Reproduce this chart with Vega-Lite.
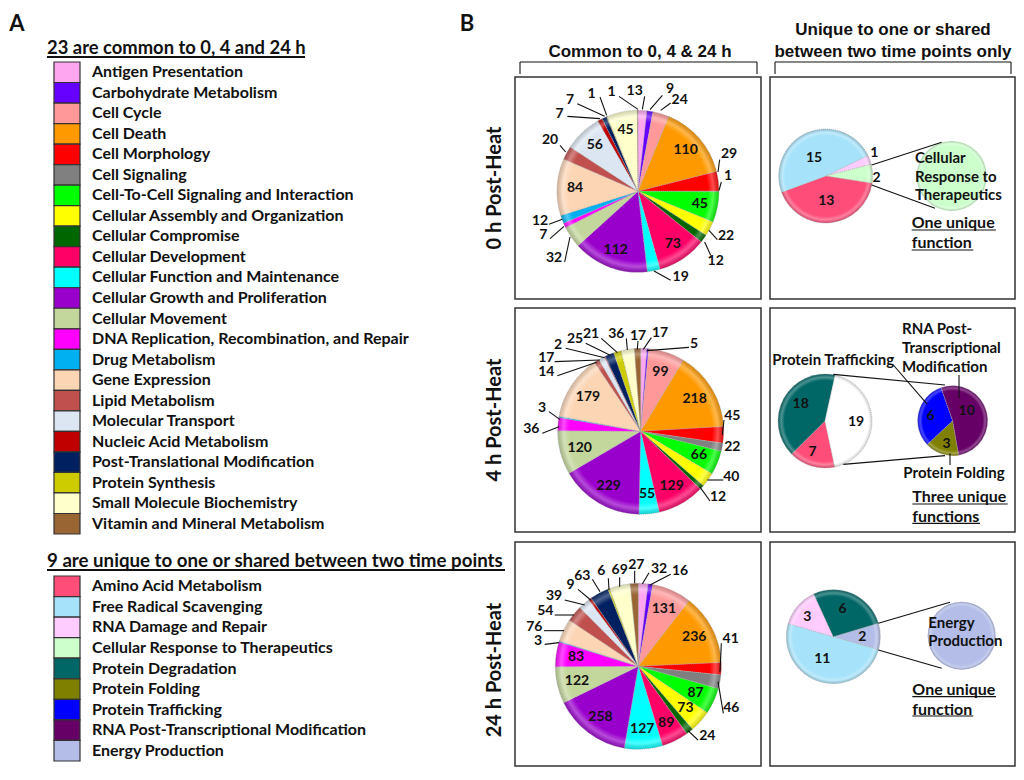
{"$schema":"https://vega.github.io/schema/vega-lite/v6.json","padding":{"left":9,"top":13,"right":9,"bottom":10},"bounds":"flush","align":"none","columns":3,"spacing":{"row":0,"column":9},
"config":{"view":{"stroke":null},"axis":{"disable":true},"legend":{"disable":true},"text":{"font":"Lato","fontWeight":"bold","fontSize":14,"color":"#111"},"rule":{"color":"#111","strokeWidth":1.1}},
"datasets":{"one":[{}],
"functionsA":[{"category":"Antigen Presentation"},{"category":"Carbohydrate Metabolism"},{"category":"Cell Cycle"},{"category":"Cell Death"},{"category":"Cell Morphology"},{"category":"Cell Signaling"},{"category":"Cell-To-Cell Signaling and Interaction"},{"category":"Cellular Assembly and Organization"},{"category":"Cellular Compromise"},{"category":"Cellular Development"},{"category":"Cellular Function and Maintenance"},{"category":"Cellular Growth and Proliferation"},{"category":"Cellular Movement"},{"category":"DNA Replication, Recombination, and Repair"},{"category":"Drug Metabolism"},{"category":"Gene Expression"},{"category":"Lipid Metabolism"},{"category":"Molecular Transport"},{"category":"Nucleic Acid Metabolism"},{"category":"Post-Translational Modification"},{"category":"Protein Synthesis"},{"category":"Small Molecule Biochemistry"},{"category":"Vitamin and Mineral Metabolism"}],
"functionsB":[{"category":"Amino Acid Metabolism"},{"category":"Free Radical Scavenging"},{"category":"RNA Damage and Repair"},{"category":"Cellular Response to Therapeutics"},{"category":"Protein Degradation"},{"category":"Protein Folding"},{"category":"Protein Trafficking"},{"category":"RNA Post-Transcriptional Modification"},{"category":"Energy Production"}],
"common":[
{"time":"0 h","category":"Antigen Presentation","value":13},{"time":"0 h","category":"Carbohydrate Metabolism","value":9},{"time":"0 h","category":"Cell Cycle","value":24},{"time":"0 h","category":"Cell Death","value":110},{"time":"0 h","category":"Cell Morphology","value":29},{"time":"0 h","category":"Cell Signaling","value":1},{"time":"0 h","category":"Cell-To-Cell Signaling and Interaction","value":45},{"time":"0 h","category":"Cellular Assembly and Organization","value":22},{"time":"0 h","category":"Cellular Compromise","value":12},{"time":"0 h","category":"Cellular Development","value":73},{"time":"0 h","category":"Cellular Function and Maintenance","value":19},{"time":"0 h","category":"Cellular Growth and Proliferation","value":112},{"time":"0 h","category":"Cellular Movement","value":32},{"time":"0 h","category":"DNA Replication, Recombination, and Repair","value":7},{"time":"0 h","category":"Drug Metabolism","value":12},{"time":"0 h","category":"Gene Expression","value":84},{"time":"0 h","category":"Lipid Metabolism","value":20},{"time":"0 h","category":"Molecular Transport","value":56},{"time":"0 h","category":"Nucleic Acid Metabolism","value":7},{"time":"0 h","category":"Post-Translational Modification","value":7},{"time":"0 h","category":"Protein Synthesis","value":1},{"time":"0 h","category":"Small Molecule Biochemistry","value":45},{"time":"0 h","category":"Vitamin and Mineral Metabolism","value":1},
{"time":"4 h","category":"Antigen Presentation","value":17},{"time":"4 h","category":"Carbohydrate Metabolism","value":5},{"time":"4 h","category":"Cell Cycle","value":99},{"time":"4 h","category":"Cell Death","value":218},{"time":"4 h","category":"Cell Morphology","value":45},{"time":"4 h","category":"Cell Signaling","value":22},{"time":"4 h","category":"Cell-To-Cell Signaling and Interaction","value":66},{"time":"4 h","category":"Cellular Assembly and Organization","value":40},{"time":"4 h","category":"Cellular Compromise","value":12},{"time":"4 h","category":"Cellular Development","value":129},{"time":"4 h","category":"Cellular Function and Maintenance","value":55},{"time":"4 h","category":"Cellular Growth and Proliferation","value":229},{"time":"4 h","category":"Cellular Movement","value":120},{"time":"4 h","category":"DNA Replication, Recombination, and Repair","value":36},{"time":"4 h","category":"Drug Metabolism","value":3},{"time":"4 h","category":"Gene Expression","value":179},{"time":"4 h","category":"Lipid Metabolism","value":14},{"time":"4 h","category":"Molecular Transport","value":17},{"time":"4 h","category":"Nucleic Acid Metabolism","value":2},{"time":"4 h","category":"Post-Translational Modification","value":25},{"time":"4 h","category":"Protein Synthesis","value":21},{"time":"4 h","category":"Small Molecule Biochemistry","value":36},{"time":"4 h","category":"Vitamin and Mineral Metabolism","value":17},
{"time":"24 h","category":"Antigen Presentation","value":32},{"time":"24 h","category":"Carbohydrate Metabolism","value":16},{"time":"24 h","category":"Cell Cycle","value":131},{"time":"24 h","category":"Cell Death","value":236},{"time":"24 h","category":"Cell Morphology","value":41},{"time":"24 h","category":"Cell Signaling","value":46},{"time":"24 h","category":"Cell-To-Cell Signaling and Interaction","value":87},{"time":"24 h","category":"Cellular Assembly and Organization","value":73},{"time":"24 h","category":"Cellular Compromise","value":24},{"time":"24 h","category":"Cellular Development","value":89},{"time":"24 h","category":"Cellular Function and Maintenance","value":127},{"time":"24 h","category":"Cellular Growth and Proliferation","value":258},{"time":"24 h","category":"Cellular Movement","value":122},{"time":"24 h","category":"DNA Replication, Recombination, and Repair","value":83},{"time":"24 h","category":"Drug Metabolism","value":3},{"time":"24 h","category":"Gene Expression","value":76},{"time":"24 h","category":"Lipid Metabolism","value":54},{"time":"24 h","category":"Molecular Transport","value":39},{"time":"24 h","category":"Nucleic Acid Metabolism","value":9},{"time":"24 h","category":"Post-Translational Modification","value":63},{"time":"24 h","category":"Protein Synthesis","value":6},{"time":"24 h","category":"Small Molecule Biochemistry","value":69},{"time":"24 h","category":"Vitamin and Mineral Metabolism","value":27}],
"unique":[
{"pie":"0 h","slice":1,"category":"RNA Damage and Repair","value":1},{"pie":"0 h","slice":2,"category":"Cellular Response to Therapeutics","value":2},{"pie":"0 h","slice":3,"category":"Amino Acid Metabolism","value":13},{"pie":"0 h","slice":4,"category":"Free Radical Scavenging","value":15},
{"pie":"0 h detail","slice":1,"category":"Cellular Response to Therapeutics","value":2},
{"pie":"4 h","slice":1,"category":"Amino Acid Metabolism","value":7},{"pie":"4 h","slice":2,"category":"Protein Degradation","value":18},{"pie":"4 h","slice":3,"category":"Three unique functions","value":19},
{"pie":"4 h detail","slice":1,"category":"Protein Folding","value":3},{"pie":"4 h detail","slice":2,"category":"Protein Trafficking","value":6},{"pie":"4 h detail","slice":3,"category":"RNA Post-Transcriptional Modification","value":10},
{"pie":"24 h","slice":1,"category":"Energy Production","value":2},{"pie":"24 h","slice":2,"category":"Free Radical Scavenging","value":11},{"pie":"24 h","slice":3,"category":"RNA Damage and Repair","value":3},{"pie":"24 h","slice":4,"category":"Protein Degradation","value":6},
{"pie":"24 h detail","slice":1,"category":"Energy Production","value":2}]},
"concat":[
  {"width":459,"height":20,"data":{"name":"one"},"layer":[
   {"mark":{"type":"rule","strokeWidth":2},"encoding":{"x":{"datum":0,"scale":{"domain":[0,459],"nice":false,"zero":false}},"x2":{"datum":258},"y":{"datum":0,"scale":{"domain":[0,20],"reverse":true,"nice":false,"zero":false}}}},
   {"mark":{"type":"text","text":"23 are common to 0, 4 and 24 h","align":"left","fontSize":18.4,"dy":-9},"encoding":{"x":{"datum":0},"y":{"datum":0}}},
   {"mark":{"type":"text","text":"A","align":"center","fontSize":22,"dx":-30,"dy":-33},"encoding":{"x":{"datum":0},"y":{"datum":0}}}]},
  {"width":246,"height":20,"data":{"name":"one"},"layer":[
    {"mark":"rule","encoding":{"x":{"datum":5,"scale":{"domain":[0,246],"nice":false,"zero":false}},"x2":{"datum":242},"y":{"datum":5,"scale":{"domain":[0,20],"reverse":true,"nice":false,"zero":false}}}},
    {"mark":"rule","encoding":{"x":{"datum":5},"y":{"datum":5},"y2":{"datum":17}}},
    {"mark":"rule","encoding":{"x":{"datum":242},"y":{"datum":5},"y2":{"datum":17}}},
    {"mark":{"type":"text","text":"Common to 0, 4 & 24 h","font":"Liberation Sans","fontSize":17,"dy":-5},"encoding":{"x":{"datum":125},"y":{"datum":0}}},
    {"mark":{"type":"text","text":"B","fontSize":22,"dx":-48,"dy":-33},"encoding":{"x":{"datum":0},"y":{"datum":0}}}]},
  {"width":245,"height":20,"data":{"name":"one"},"layer":[
    {"mark":"rule","encoding":{"x":{"datum":5,"scale":{"domain":[0,245],"nice":false,"zero":false}},"x2":{"datum":241},"y":{"datum":5,"scale":{"domain":[0,20],"reverse":true,"nice":false,"zero":false}}}},
    {"mark":"rule","encoding":{"x":{"datum":5},"y":{"datum":5},"y2":{"datum":17}}},
    {"mark":"rule","encoding":{"x":{"datum":241},"y":{"datum":5},"y2":{"datum":17}}},
    {"mark":{"type":"text","text":"Unique to one or shared","font":"Liberation Sans","fontSize":17,"dy":-27},"encoding":{"x":{"datum":123},"y":{"datum":0}}},
    {"mark":{"type":"text","text":"between two time points only","font":"Liberation Sans","fontSize":17,"dy":-5},"encoding":{"x":{"datum":123},"y":{"datum":0}}}]},

  {"width":459,"height":222,"data":{"name":"functionsA"},"layer":[
   {"mark":{"type":"rect","stroke":"#333","strokeWidth":1.2},"encoding":{
   "x":{"datum":7,"scale":{"domain":[0,459],"nice":false,"zero":false}},"x2":{"datum":33},
   "y":{"field":"category","type":"nominal","sort":null,"scale":{"range":[-15,457],"paddingInner":0,"paddingOuter":0}},
   "color":{"field":"category","type":"nominal","scale":{
    "domain":["Antigen Presentation","Carbohydrate Metabolism","Cell Cycle","Cell Death","Cell Morphology","Cell Signaling","Cell-To-Cell Signaling and Interaction","Cellular Assembly and Organization","Cellular Compromise","Cellular Development","Cellular Function and Maintenance","Cellular Growth and Proliferation","Cellular Movement","DNA Replication, Recombination, and Repair","Drug Metabolism","Gene Expression","Lipid Metabolism","Molecular Transport","Nucleic Acid Metabolism","Post-Translational Modification","Protein Synthesis","Small Molecule Biochemistry","Vitamin and Mineral Metabolism","Amino Acid Metabolism","Free Radical Scavenging","RNA Damage and Repair","Cellular Response to Therapeutics","Protein Degradation","Protein Folding","Protein Trafficking","RNA Post-Transcriptional Modification","Energy Production","Three unique functions"],
    "range":["#FFA6F0","#6600FF","#FF9999","#FF9900","#FF0000","#808080","#00FF00","#FFFF00","#006600","#FF0066","#00FFFF","#9900CC","#C3D69B","#FF00FF","#00B0F0","#FCD5B5","#C0504D","#DCE6F2","#C00000","#002060","#CCCC00","#FFFFCC","#996633","#FF4D79","#A6E3FA","#FFCCFF","#CCFFCC","#006666","#808000","#0000FF","#660066","#B3BDE8","#FFFFFF"]}}}},
   {"mark":{"type":"text","align":"left","fontSize":16},"encoding":{"x":{"datum":45},"y":{"field":"category","type":"nominal","sort":null},"text":{"field":"category"}}}]},
  {"width":246,"height":222,"view":{"stroke":"#333","strokeWidth":1.5},"data":{"name":"one"},"layer":[
    {"data":{"name":"common"},"transform":[{"filter":"datum.time==='0 h'"}],"mark":{"type":"arc","outerRadius":81,"stroke":"#aaa","strokeWidth":0.7,"strokeDash":[1,1]},"encoding":{"x":{"datum":372,"scale":{"domain":[3,741],"nice":false,"zero":false}},"y":{"datum":343,"scale":{"domain":[0,666],"reverse":true,"nice":false,"zero":false}},"theta":{"field":"value","type":"quantitative","stack":true},"order":{"field":"category"},"color":{"field":"category","type":"nominal"}}},
    {"mark":{"type":"arc","outerRadius":81,"theta":0,"theta2":6.2832,"fill":{"gradient":"radial","stops":[{"offset":0,"color":"rgba(255,255,255,0)"},{"offset":0.86,"color":"rgba(255,255,255,0)"},{"offset":0.93,"color":"rgba(255,255,255,0.3)"},{"offset":1,"color":"rgba(60,60,60,0.22)"}]}},"encoding":{"x":{"datum":372},"y":{"datum":343}}},
    {"data":{"name":"common"},"transform":[{"filter":"datum.time==='0 h'"}],"mark":{"type":"text","radius":63},"encoding":{"x":{"datum":372},"y":{"datum":343},"theta":{"field":"value","type":"quantitative","stack":true},"order":{"field":"category"},"text":{"condition":{"test":"datum.value>=45","field":"value"},"value":""}}},
    {"mark":{"type":"text","text":"0 h  Post-Heat","angle":270,"fontSize":20,"dy":-20},"encoding":{"x":{"datum":3},"y":{"datum":333}}},
    {"mark":{"type":"text","text":"13"},"encoding":{"x":{"datum":362},"y":{"datum":43}}},{"mark":"rule","encoding":{"x":{"datum":392},"y":{"datum":58},"x2":{"datum":385},"y2":{"datum":97}}},
    {"mark":{"type":"text","text":"9"},"encoding":{"x":{"datum":468},"y":{"datum":35}}},{"mark":"rule","encoding":{"x":{"datum":445},"y":{"datum":55},"x2":{"datum":408},"y2":{"datum":98}}},
    {"mark":{"type":"text","text":"24"},"encoding":{"x":{"datum":497},"y":{"datum":70}}},{"mark":"rule","encoding":{"x":{"datum":470},"y":{"datum":78},"x2":{"datum":440},"y2":{"datum":100}}},
    {"mark":{"type":"text","text":"29"},"encoding":{"x":{"datum":645},"y":{"datum":230}}},{"mark":"rule","encoding":{"x":{"datum":617},"y":{"datum":248},"x2":{"datum":612},"y2":{"datum":285}}},
    {"mark":{"type":"text","text":"1"},"encoding":{"x":{"datum":642},"y":{"datum":298}}},{"mark":"rule","encoding":{"x":{"datum":622},"y":{"datum":315},"x2":{"datum":615},"y2":{"datum":340}}},
    {"mark":{"type":"text","text":"22"},"encoding":{"x":{"datum":636},"y":{"datum":477}}},{"mark":"rule","encoding":{"x":{"datum":610},"y":{"datum":488},"x2":{"datum":585},"y2":{"datum":460}}},
    {"mark":{"type":"text","text":"12"},"encoding":{"x":{"datum":605},"y":{"datum":551}}},{"mark":"rule","encoding":{"x":{"datum":590},"y":{"datum":535},"x2":{"datum":572},"y2":{"datum":495}}},
    {"mark":{"type":"text","text":"19"},"encoding":{"x":{"datum":500},"y":{"datum":600}}},{"mark":"rule","encoding":{"x":{"datum":470},"y":{"datum":610},"x2":{"datum":420},"y2":{"datum":582}}},
    {"mark":{"type":"text","text":"32"},"encoding":{"x":{"datum":120},"y":{"datum":543}}},{"mark":"rule","encoding":{"x":{"datum":152},"y":{"datum":555},"x2":{"datum":168},"y2":{"datum":480}}},
    {"mark":{"type":"text","text":"7"},"encoding":{"x":{"datum":88},"y":{"datum":474}}},{"mark":"rule","encoding":{"x":{"datum":108},"y":{"datum":485},"x2":{"datum":150},"y2":{"datum":448}}},
    {"mark":{"type":"text","text":"12"},"encoding":{"x":{"datum":78},"y":{"datum":432}}},{"mark":"rule","encoding":{"x":{"datum":105},"y":{"datum":442},"x2":{"datum":145},"y2":{"datum":427}}},
    {"mark":{"type":"text","text":"20"},"encoding":{"x":{"datum":108},"y":{"datum":190}}},{"mark":"rule","encoding":{"x":{"datum":138},"y":{"datum":205},"x2":{"datum":155},"y2":{"datum":225}}},
    {"mark":{"type":"text","text":"7"},"encoding":{"x":{"datum":137},"y":{"datum":110}}},{"mark":"rule","encoding":{"x":{"datum":160},"y":{"datum":118},"x2":{"datum":258},"y2":{"datum":125}}},
    {"mark":{"type":"text","text":"7"},"encoding":{"x":{"datum":168},"y":{"datum":68}}},{"mark":"rule","encoding":{"x":{"datum":190},"y":{"datum":80},"x2":{"datum":272},"y2":{"datum":118}}},
    {"mark":{"type":"text","text":"1"},"encoding":{"x":{"datum":233},"y":{"datum":50}}},{"mark":"rule","encoding":{"x":{"datum":258},"y":{"datum":60},"x2":{"datum":278},"y2":{"datum":115}}},
    {"mark":{"type":"text","text":"1"},"encoding":{"x":{"datum":293},"y":{"datum":45}}},{"mark":"rule","encoding":{"x":{"datum":315},"y":{"datum":58},"x2":{"datum":372},"y2":{"datum":97}}}]},
  {"width":245,"height":222,"view":{"stroke":"#333","strokeWidth":1.5},"data":{"name":"one"},"layer":[
    {"data":{"name":"unique"},"transform":[{"filter":"datum.pie==='0 h'"}],"mark":{"type":"arc","outerRadius":47,"stroke":"#aaa","strokeWidth":0.7,"strokeDash":[1,1]},"encoding":{"x":{"datum":182,"scale":{"domain":[15,750],"nice":false,"zero":false}},"y":{"datum":303,"scale":{"domain":[6,672],"reverse":true,"nice":false,"zero":false}},"theta":{"field":"value","type":"quantitative","stack":true,"scale":{"range":[1.117,7.4]}},"order":{"field":"slice"},"color":{"field":"category","type":"nominal"}}},
    {"mark":{"type":"arc","outerRadius":47,"theta":0,"theta2":6.2832,"fill":{"gradient":"radial","stops":[{"offset":0,"color":"rgba(255,255,255,0)"},{"offset":0.86,"color":"rgba(255,255,255,0)"},{"offset":0.93,"color":"rgba(255,255,255,0.3)"},{"offset":1,"color":"rgba(60,60,60,0.22)"}]}},"encoding":{"x":{"datum":182},"y":{"datum":303}}},
    {"data":{"name":"unique"},"transform":[{"filter":"datum.pie==='0 h detail'"}],"mark":{"type":"arc","outerRadius":35,"theta":0,"theta2":6.2832},"encoding":{"x":{"datum":560},"y":{"datum":303},"color":{"field":"category","type":"nominal"}}},
    {"mark":{"type":"arc","outerRadius":35,"theta":0,"theta2":6.2832,"fill":{"gradient":"radial","stops":[{"offset":0,"color":"rgba(255,255,255,0)"},{"offset":0.86,"color":"rgba(255,255,255,0)"},{"offset":0.93,"color":"rgba(255,255,255,0.3)"},{"offset":1,"color":"rgba(60,60,60,0.22)"}]}},"encoding":{"x":{"datum":560},"y":{"datum":303}}},
    {"mark":"rule","encoding":{"x":{"datum":320},"y":{"datum":270},"x2":{"datum":530},"y2":{"datum":202}}},
    {"mark":"rule","encoding":{"x":{"datum":320},"y":{"datum":330},"x2":{"datum":510},"y2":{"datum":400}}},
    {"mark":{"type":"text","text":"15"},"encoding":{"x":{"datum":147},"y":{"datum":250}}},
    {"mark":{"type":"text","text":"13"},"encoding":{"x":{"datum":184},"y":{"datum":377}}},
    {"mark":{"type":"text","text":"1"},"encoding":{"x":{"datum":328},"y":{"datum":235}}},
    {"mark":{"type":"text","text":"2"},"encoding":{"x":{"datum":335},"y":{"datum":308}}},
    {"mark":{"type":"text","text":["Cellular","Response to","Therapeutics"],"align":"left","baseline":"top","lineHeight":18.5,"fontSize":15},"encoding":{"x":{"datum":450},"y":{"datum":228}}},
    {"mark":{"type":"text","text":"One unique","align":"left","fontSize":16},"encoding":{"x":{"datum":440},"y":{"datum":445}}},
    {"mark":{"type":"text","text":"function","align":"left","fontSize":16},"encoding":{"x":{"datum":440},"y":{"datum":505}}},
    {"mark":"rule","encoding":{"x":{"datum":440},"y":{"datum":465},"x2":{"datum":693}}},
    {"mark":"rule","encoding":{"x":{"datum":440},"y":{"datum":525},"x2":{"datum":625}}}]},

  {"width":459,"height":9,"data":{"name":"one"},"mark":{"type":"rule","opacity":0},"encoding":{}},
  {"width":246,"height":9,"data":{"name":"one"},"mark":{"type":"rule","opacity":0},"encoding":{}},
  {"width":245,"height":9,"data":{"name":"one"},"mark":{"type":"rule","opacity":0},"encoding":{}},

  {"width":459,"height":224,"data":{"name":"one"},"mark":{"type":"rule","opacity":0},"encoding":{}},
  {"width":246,"height":224,"view":{"stroke":"#333","strokeWidth":1.5},"data":{"name":"one"},"layer":[
    {"data":{"name":"common"},"transform":[{"filter":"datum.time==='4 h'"}],"mark":{"type":"arc","outerRadius":83,"stroke":"#aaa","strokeWidth":0.7,"strokeDash":[1,1]},"encoding":{"x":{"datum":380,"scale":{"domain":[3,741],"nice":false,"zero":false}},"y":{"datum":379,"scale":{"domain":[9,681],"reverse":true,"nice":false,"zero":false}},"theta":{"field":"value","type":"quantitative","stack":true},"order":{"field":"category"},"color":{"field":"category","type":"nominal"}}},
    {"mark":{"type":"arc","outerRadius":83,"theta":0,"theta2":6.2832,"fill":{"gradient":"radial","stops":[{"offset":0,"color":"rgba(255,255,255,0)"},{"offset":0.86,"color":"rgba(255,255,255,0)"},{"offset":0.93,"color":"rgba(255,255,255,0.3)"},{"offset":1,"color":"rgba(60,60,60,0.22)"}]}},"encoding":{"x":{"datum":380},"y":{"datum":379}}},
    {"data":{"name":"common"},"transform":[{"filter":"datum.time==='4 h'"}],"mark":{"type":"text","radius":63},"encoding":{"x":{"datum":380},"y":{"datum":379},"theta":{"field":"value","type":"quantitative","stack":true},"order":{"field":"category"},"text":{"condition":{"test":"datum.value>=55","field":"value"},"value":""}}},
    {"mark":{"type":"text","text":"4 h Post-Heat","angle":270,"fontSize":20,"dy":-20},"encoding":{"x":{"datum":3},"y":{"datum":345}}},
    {"mark":{"type":"text","text":"17"},"encoding":{"x":{"datum":372},"y":{"datum":92}}},{"mark":"rule","encoding":{"x":{"datum":372},"y":{"datum":108},"x2":{"datum":370},"y2":{"datum":133}}},
    {"mark":{"type":"text","text":"17"},"encoding":{"x":{"datum":438},"y":{"datum":85}}},{"mark":"rule","encoding":{"x":{"datum":412},"y":{"datum":98},"x2":{"datum":388},"y2":{"datum":133}}},
    {"mark":{"type":"text","text":"5"},"encoding":{"x":{"datum":540},"y":{"datum":117}}},{"mark":"rule","encoding":{"x":{"datum":525},"y":{"datum":127},"x2":{"datum":398},"y2":{"datum":137}}},
    {"mark":{"type":"text","text":"45"},"encoding":{"x":{"datum":655},"y":{"datum":332}}},{"mark":"rule","encoding":{"x":{"datum":630},"y":{"datum":345},"x2":{"datum":625},"y2":{"datum":390}}},
    {"mark":{"type":"text","text":"22"},"encoding":{"x":{"datum":655},"y":{"datum":425}}},
    {"mark":{"type":"text","text":"40"},"encoding":{"x":{"datum":652},"y":{"datum":515}}},{"mark":"rule","encoding":{"x":{"datum":628},"y":{"datum":525},"x2":{"datum":580},"y2":{"datum":525}}},
    {"mark":{"type":"text","text":"12"},"encoding":{"x":{"datum":612},"y":{"datum":576}}},{"mark":"rule","encoding":{"x":{"datum":588},"y":{"datum":588},"x2":{"datum":557},"y2":{"datum":545}}},
    {"mark":{"type":"text","text":"36"},"encoding":{"x":{"datum":52},"y":{"datum":373}}},{"mark":"rule","encoding":{"x":{"datum":85},"y":{"datum":385},"x2":{"datum":135},"y2":{"datum":365}}},
    {"mark":{"type":"text","text":"3"},"encoding":{"x":{"datum":84},"y":{"datum":310}}},{"mark":"rule","encoding":{"x":{"datum":105},"y":{"datum":320},"x2":{"datum":137},"y2":{"datum":343}}},
    {"mark":{"type":"text","text":"14"},"encoding":{"x":{"datum":97},"y":{"datum":200}}},{"mark":"rule","encoding":{"x":{"datum":130},"y":{"datum":212},"x2":{"datum":248},"y2":{"datum":172}}},
    {"mark":{"type":"text","text":"17"},"encoding":{"x":{"datum":97},"y":{"datum":160}}},{"mark":"rule","encoding":{"x":{"datum":122},"y":{"datum":170},"x2":{"datum":258},"y2":{"datum":165}}},
    {"mark":{"type":"text","text":"2"},"encoding":{"x":{"datum":132},"y":{"datum":120}}},{"mark":"rule","encoding":{"x":{"datum":155},"y":{"datum":130},"x2":{"datum":272},"y2":{"datum":158}}},
    {"mark":{"type":"text","text":"25"},"encoding":{"x":{"datum":183},"y":{"datum":103}}},{"mark":"rule","encoding":{"x":{"datum":215},"y":{"datum":115},"x2":{"datum":287},"y2":{"datum":150}}},
    {"mark":{"type":"text","text":"21"},"encoding":{"x":{"datum":231},"y":{"datum":88}}},{"mark":"rule","encoding":{"x":{"datum":262},"y":{"datum":100},"x2":{"datum":310},"y2":{"datum":143}}},
    {"mark":{"type":"text","text":"36"},"encoding":{"x":{"datum":307},"y":{"datum":88}}},{"mark":"rule","encoding":{"x":{"datum":337},"y":{"datum":100},"x2":{"datum":340},"y2":{"datum":135}}}]},
  {"width":245,"height":224,"view":{"stroke":"#333","strokeWidth":1.5},"data":{"name":"one"},"resolve":{"scale":{"theta":"independent"}},"layer":[
    {"data":{"name":"unique"},"transform":[{"filter":"datum.pie==='4 h'"}],"mark":{"type":"arc","outerRadius":47,"stroke":"#aaa","strokeWidth":0.7,"strokeDash":[1,1]},"encoding":{"x":{"datum":180,"scale":{"domain":[15,750],"nice":false,"zero":false}},"y":{"datum":348,"scale":{"domain":[9,681],"reverse":true,"nice":false,"zero":false}},"theta":{"field":"value","type":"quantitative","stack":true,"scale":{"range":[2.932,9.215]}},"order":{"field":"slice"},"color":{"field":"category","type":"nominal"}}},
    {"mark":{"type":"arc","outerRadius":47,"theta":0,"theta2":6.2832,"fill":{"gradient":"radial","stops":[{"offset":0,"color":"rgba(255,255,255,0)"},{"offset":0.86,"color":"rgba(255,255,255,0)"},{"offset":0.93,"color":"rgba(255,255,255,0.3)"},{"offset":1,"color":"rgba(60,60,60,0.22)"}]}},"encoding":{"x":{"datum":180},"y":{"datum":348}}},
    {"data":{"name":"unique"},"transform":[{"filter":"datum.pie==='4 h detail'"}],"mark":{"type":"arc","outerRadius":35,"stroke":"#aaa","strokeWidth":0.7,"strokeDash":[1,1]},"encoding":{"x":{"datum":563},"y":{"datum":347},"theta":{"field":"value","type":"quantitative","stack":true,"scale":{"range":[2.967,9.25]}},"order":{"field":"slice"},"color":{"field":"category","type":"nominal"}}},
    {"mark":{"type":"arc","outerRadius":35,"theta":0,"theta2":6.2832,"fill":{"gradient":"radial","stops":[{"offset":0,"color":"rgba(255,255,255,0)"},{"offset":0.86,"color":"rgba(255,255,255,0)"},{"offset":0.93,"color":"rgba(255,255,255,0.3)"},{"offset":1,"color":"rgba(60,60,60,0.22)"}]}},"encoding":{"x":{"datum":563},"y":{"datum":347}}},
    {"mark":"rule","encoding":{"x":{"datum":205},"y":{"datum":208},"x2":{"datum":540},"y2":{"datum":240}}},
    {"mark":"rule","encoding":{"x":{"datum":235},"y":{"datum":478},"x2":{"datum":540},"y2":{"datum":452}}},
    {"mark":"rule","encoding":{"x":{"datum":385},"y":{"datum":180},"x2":{"datum":487},"y2":{"datum":298}}},
    {"mark":"rule","encoding":{"x":{"datum":582},"y":{"datum":210},"x2":{"datum":582},"y2":{"datum":280}}},
    {"mark":"rule","encoding":{"x":{"datum":555},"y":{"datum":445},"x2":{"datum":555},"y2":{"datum":480}}},
    {"mark":{"type":"text","text":"18"},"encoding":{"x":{"datum":107},"y":{"datum":297}}},
    {"mark":{"type":"text","text":"7"},"encoding":{"x":{"datum":143},"y":{"datum":440}}},
    {"mark":{"type":"text","text":"19"},"encoding":{"x":{"datum":273},"y":{"datum":350}}},
    {"mark":{"type":"text","text":"6"},"encoding":{"x":{"datum":497},"y":{"datum":333}}},
    {"mark":{"type":"text","text":"10"},"encoding":{"x":{"datum":605},"y":{"datum":318}}},
    {"mark":{"type":"text","text":"3"},"encoding":{"x":{"datum":545},"y":{"datum":418}}},
    {"mark":{"type":"text","text":"Protein Trafficking","align":"left","fontSize":15},"encoding":{"x":{"datum":22},"y":{"datum":165}}},
    {"mark":{"type":"text","text":["RNA Post-","Transcriptional","Modification"],"align":"left","baseline":"top","lineHeight":19,"fontSize":15},"encoding":{"x":{"datum":411},"y":{"datum":52}}},
    {"mark":{"type":"text","text":"Protein Folding","align":"left","fontSize":15},"encoding":{"x":{"datum":415},"y":{"datum":503}}},
    {"mark":{"type":"text","text":"Three unique","align":"left","fontSize":16},"encoding":{"x":{"datum":442},"y":{"datum":577}}},
    {"mark":{"type":"text","text":"functions","align":"left","fontSize":16},"encoding":{"x":{"datum":442},"y":{"datum":637}}},
    {"mark":"rule","encoding":{"x":{"datum":442},"y":{"datum":597},"x2":{"datum":728}}},
    {"mark":"rule","encoding":{"x":{"datum":442},"y":{"datum":655},"x2":{"datum":645}}}]},

  {"width":459,"height":10,"data":{"name":"one"},"mark":{"type":"rule","opacity":0},"encoding":{}},
  {"width":246,"height":10,"data":{"name":"one"},"mark":{"type":"rule","opacity":0},"encoding":{}},
  {"width":245,"height":10,"data":{"name":"one"},"mark":{"type":"rule","opacity":0},"encoding":{}},

  {"width":459,"height":224,"data":{"name":"functionsB"},"resolve":{"scale":{"y":"independent"}},"layer":[
   {"mark":{"type":"rect","stroke":"#333","strokeWidth":1.2},"encoding":{
   "x":{"datum":7,"scale":{"domain":[0,459],"nice":false,"zero":false}},"x2":{"datum":33},
   "y":{"field":"category","type":"nominal","sort":null,"scale":{"range":[34,219],"paddingInner":0,"paddingOuter":0}},
   "color":{"field":"category","type":"nominal"}}},
   {"mark":{"type":"text","align":"left","fontSize":16},"encoding":{"x":{"datum":45},"y":{"field":"category","type":"nominal","sort":null,"scale":{"range":[34,219],"paddingInner":0,"paddingOuter":0}},"text":{"field":"category"}}},
   {"data":{"name":"one"},"mark":{"type":"rule","strokeWidth":2},"encoding":{"x":{"datum":0},"x2":{"datum":458},"y":{"datum":28,"scale":{"domain":[0,224],"reverse":true,"nice":false,"zero":false}}}},
   {"data":{"name":"one"},"mark":{"type":"text","text":"9 are unique to one or shared between two time points","align":"left","fontSize":18.7,"dy":-9},"encoding":{"x":{"datum":0},"y":{"datum":28,"scale":{"domain":[0,224],"reverse":true,"nice":false,"zero":false}}}}]},
  {"width":246,"height":224,"view":{"stroke":"#333","strokeWidth":1.5},"data":{"name":"one"},"layer":[
    {"data":{"name":"common"},"transform":[{"filter":"datum.time==='24 h'"}],"mark":{"type":"arc","outerRadius":83,"stroke":"#aaa","strokeWidth":0.7,"strokeDash":[1,1]},"encoding":{"x":{"datum":373,"scale":{"domain":[3,741],"nice":false,"zero":false}},"y":{"datum":379,"scale":{"domain":[6,678],"reverse":true,"nice":false,"zero":false}},"theta":{"field":"value","type":"quantitative","stack":true},"order":{"field":"category"},"color":{"field":"category","type":"nominal"}}},
    {"mark":{"type":"arc","outerRadius":83,"theta":0,"theta2":6.2832,"fill":{"gradient":"radial","stops":[{"offset":0,"color":"rgba(255,255,255,0)"},{"offset":0.86,"color":"rgba(255,255,255,0)"},{"offset":0.93,"color":"rgba(255,255,255,0.3)"},{"offset":1,"color":"rgba(60,60,60,0.22)"}]}},"encoding":{"x":{"datum":373},"y":{"datum":379}}},
    {"data":{"name":"common"},"transform":[{"filter":"datum.time==='24 h'"}],"mark":{"type":"text","radius":63},"encoding":{"x":{"datum":373},"y":{"datum":379},"theta":{"field":"value","type":"quantitative","stack":true},"order":{"field":"category"},"text":{"condition":{"test":"datum.value>=73&&datum.value!==76","field":"value"},"value":""}}},
    {"mark":{"type":"text","text":"24 h Post-Heat","angle":270,"fontSize":20,"dy":-20},"encoding":{"x":{"datum":3},"y":{"datum":390}}},
    {"mark":{"type":"text","text":"32"},"encoding":{"x":{"datum":435},"y":{"datum":87}}},{"mark":"rule","encoding":{"x":{"datum":405},"y":{"datum":98},"x2":{"datum":385},"y2":{"datum":132}}},
    {"mark":{"type":"text","text":"16"},"encoding":{"x":{"datum":498},"y":{"datum":92}}},{"mark":"rule","encoding":{"x":{"datum":470},"y":{"datum":103},"x2":{"datum":408},"y2":{"datum":135}}},
    {"mark":{"type":"text","text":"41"},"encoding":{"x":{"datum":650},"y":{"datum":297}}},{"mark":"rule","encoding":{"x":{"datum":622},"y":{"datum":310},"x2":{"datum":618},"y2":{"datum":395}}},
    {"mark":{"type":"text","text":"46"},"encoding":{"x":{"datum":652},"y":{"datum":505}}},{"mark":"rule","encoding":{"x":{"datum":628},"y":{"datum":520},"x2":{"datum":612},"y2":{"datum":425}}},
    {"mark":{"type":"text","text":"24"},"encoding":{"x":{"datum":580},"y":{"datum":587}}},{"mark":"rule","encoding":{"x":{"datum":552},"y":{"datum":600},"x2":{"datum":522},"y2":{"datum":572}}},
    {"mark":{"type":"text","text":"3"},"encoding":{"x":{"datum":72},"y":{"datum":302}}},{"mark":"rule","encoding":{"x":{"datum":92},"y":{"datum":313},"x2":{"datum":135},"y2":{"datum":308}}},
    {"mark":{"type":"text","text":"76"},"encoding":{"x":{"datum":61},"y":{"datum":260}}},{"mark":"rule","encoding":{"x":{"datum":90},"y":{"datum":272},"x2":{"datum":150},"y2":{"datum":272}}},
    {"mark":{"type":"text","text":"54"},"encoding":{"x":{"datum":94},"y":{"datum":213}}},{"mark":"rule","encoding":{"x":{"datum":122},"y":{"datum":225},"x2":{"datum":180},"y2":{"datum":225}}},
    {"mark":{"type":"text","text":"39"},"encoding":{"x":{"datum":120},"y":{"datum":167}}},{"mark":"rule","encoding":{"x":{"datum":152},"y":{"datum":180},"x2":{"datum":212},"y2":{"datum":195}}},
    {"mark":{"type":"text","text":"9"},"encoding":{"x":{"datum":170},"y":{"datum":135}}},{"mark":"rule","encoding":{"x":{"datum":192},"y":{"datum":148},"x2":{"datum":230},"y2":{"datum":180}}},
    {"mark":{"type":"text","text":"63"},"encoding":{"x":{"datum":205},"y":{"datum":107}}},{"mark":"rule","encoding":{"x":{"datum":235},"y":{"datum":118},"x2":{"datum":258},"y2":{"datum":155}}},
    {"mark":{"type":"text","text":"6"},"encoding":{"x":{"datum":262},"y":{"datum":92}}},{"mark":"rule","encoding":{"x":{"datum":283},"y":{"datum":115},"x2":{"datum":285},"y2":{"datum":150}}},
    {"mark":{"type":"text","text":"69"},"encoding":{"x":{"datum":317},"y":{"datum":90}}},{"mark":"rule","encoding":{"x":{"datum":317},"y":{"datum":112},"x2":{"datum":317},"y2":{"datum":140}}},
    {"mark":{"type":"text","text":"27"},"encoding":{"x":{"datum":367},"y":{"datum":74}}},{"mark":"rule","encoding":{"x":{"datum":362},"y":{"datum":92},"x2":{"datum":362},"y2":{"datum":130}}}]},
  {"width":245,"height":224,"view":{"stroke":"#333","strokeWidth":1.5},"data":{"name":"one"},"layer":[
    {"data":{"name":"unique"},"transform":[{"filter":"datum.pie==='24 h'"}],"mark":{"type":"arc","outerRadius":47,"stroke":"#aaa","strokeWidth":0.7,"strokeDash":[1,1]},"encoding":{"x":{"datum":205,"scale":{"domain":[15,750],"nice":false,"zero":false}},"y":{"datum":290,"scale":{"domain":[6,678],"reverse":true,"nice":false,"zero":false}},"theta":{"field":"value","type":"quantitative","stack":true,"scale":{"range":[1.283,7.566]}},"order":{"field":"slice"},"color":{"field":"category","type":"nominal"}}},
    {"mark":{"type":"arc","outerRadius":47,"theta":0,"theta2":6.2832,"fill":{"gradient":"radial","stops":[{"offset":0,"color":"rgba(255,255,255,0)"},{"offset":0.86,"color":"rgba(255,255,255,0)"},{"offset":0.93,"color":"rgba(255,255,255,0.3)"},{"offset":1,"color":"rgba(60,60,60,0.22)"}]}},"encoding":{"x":{"datum":205},"y":{"datum":290}}},
    {"data":{"name":"unique"},"transform":[{"filter":"datum.pie==='24 h detail'"}],"mark":{"type":"arc","outerRadius":34,"theta":0,"theta2":6.2832},"encoding":{"x":{"datum":590},"y":{"datum":287},"color":{"field":"category","type":"nominal"}}},
    {"mark":{"type":"arc","outerRadius":34,"theta":0,"theta2":6.2832,"fill":{"gradient":"radial","stops":[{"offset":0,"color":"rgba(255,255,255,0)"},{"offset":0.86,"color":"rgba(255,255,255,0)"},{"offset":0.93,"color":"rgba(255,255,255,0.3)"},{"offset":1,"color":"rgba(60,60,60,0.22)"}]}},"encoding":{"x":{"datum":590},"y":{"datum":287}}},
    {"mark":"rule","encoding":{"x":{"datum":340},"y":{"datum":250},"x2":{"datum":555},"y2":{"datum":187}}},
    {"mark":"rule","encoding":{"x":{"datum":340},"y":{"datum":330},"x2":{"datum":530},"y2":{"datum":385}}},
    {"mark":{"type":"text","text":"6"},"encoding":{"x":{"datum":233},"y":{"datum":207}}},
    {"mark":{"type":"text","text":"3"},"encoding":{"x":{"datum":127},"y":{"datum":230}}},
    {"mark":{"type":"text","text":"2"},"encoding":{"x":{"datum":292},"y":{"datum":290}}},
    {"mark":{"type":"text","text":"11"},"encoding":{"x":{"datum":172},"y":{"datum":358}}},
    {"mark":{"type":"text","text":["Energy","Production"],"align":"left","baseline":"top","lineHeight":18,"fontSize":15},"encoding":{"x":{"datum":490},"y":{"datum":228}}},
    {"mark":{"type":"text","text":"One unique","align":"left","fontSize":16},"encoding":{"x":{"datum":442},"y":{"datum":450}}},
    {"mark":{"type":"text","text":"function","align":"left","fontSize":16},"encoding":{"x":{"datum":442},"y":{"datum":510}}},
    {"mark":"rule","encoding":{"x":{"datum":442},"y":{"datum":470},"x2":{"datum":693}}},
    {"mark":"rule","encoding":{"x":{"datum":442},"y":{"datum":528},"x2":{"datum":625}}}]}
]}
